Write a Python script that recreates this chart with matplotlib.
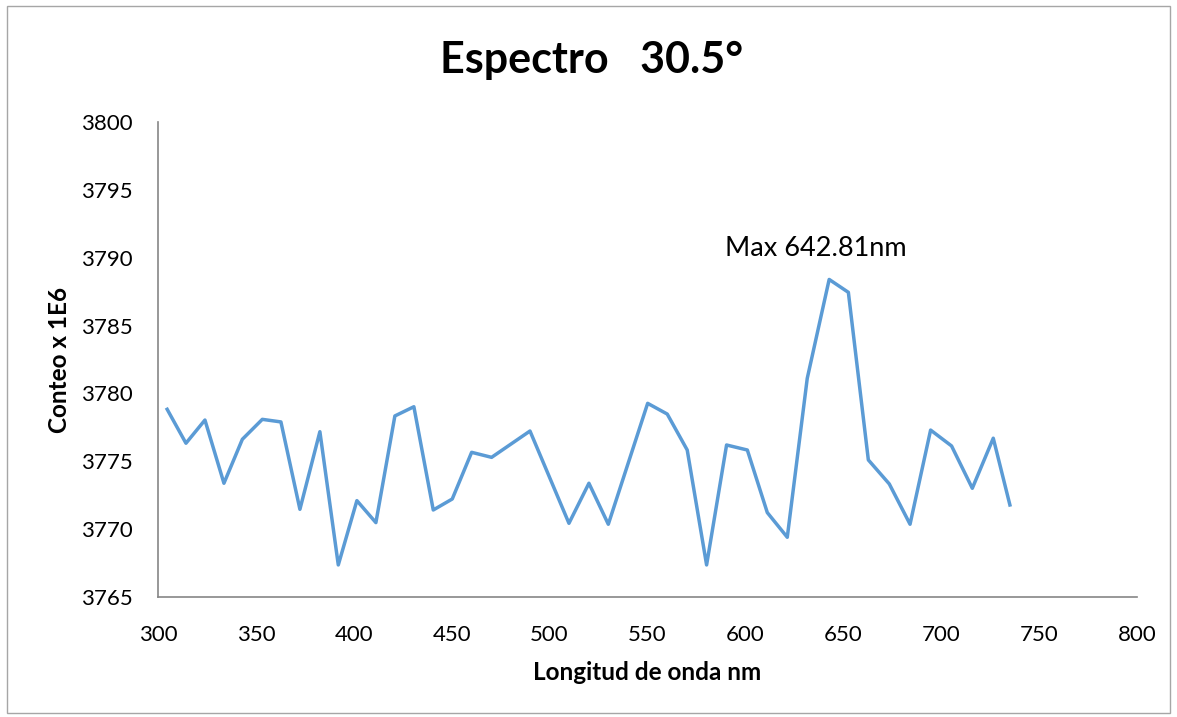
import matplotlib
matplotlib.use("Agg")
import matplotlib.pyplot as plt
from matplotlib.patches import Rectangle

# Spectrum at 30.5 degrees: wavelength (nm) vs counts (x 1E6)
wavelength_nm = [304.7, 314.3, 324.0, 333.7, 343.1, 353.3, 362.8, 372.5, 382.7, 392.1,
                 401.6, 411.3, 421.0, 430.7, 440.6, 450.3, 460.2, 470.4, 490.0, 509.9,
                 520.1, 530.0, 550.1, 560.1, 570.3, 580.2, 590.4, 601.0, 611.2, 621.4,
                 631.6, 642.8, 652.6, 662.8, 673.5, 684.1, 694.6, 705.3, 715.9, 726.6,
                 735.1]
counts = [3778.83, 3776.33, 3778.04, 3773.38, 3776.62, 3778.09, 3777.90, 3771.46, 3777.18, 3767.36,
          3772.10, 3770.48, 3778.34, 3779.02, 3771.41, 3772.22, 3775.66, 3775.29, 3777.23, 3770.43,
          3773.38, 3770.36, 3779.27, 3778.48, 3775.83, 3767.36, 3776.20, 3775.83, 3771.22, 3769.40,
          3781.11, 3788.40, 3787.45, 3775.10, 3773.33, 3770.36, 3777.30, 3776.13, 3773.01, 3776.70,
          3771.78]

title = "Espectro   30.5°"
xlabel = "Longitud de onda nm"
ylabel = "Conteo x 1E6"
peak_label = "Max 642.81nm"
x_ticks = [300, 350, 400, 450, 500, 550, 600, 650, 700, 750, 800]
y_ticks = [3765, 3770, 3775, 3780, 3785, 3790, 3795, 3800]

plt.rcParams['font.family'] = ['Lato', 'DejaVu Sans']

fig = plt.figure(figsize=(11.77, 7.17), dpi=100)
fig.patches.append(Rectangle((0.006, 0.006), 0.988, 0.985, transform=fig.transFigure,
                             fill=False, edgecolor='#a6a6a6', linewidth=1.0))

ax = fig.add_axes([0.1342, 0.1674, 0.8318, 0.6624])
ax.plot(wavelength_nm, counts, color='#5B9BD5', linewidth=2.5)

ax.set_xlim(300, 800)
ax.set_ylim(3765, 3800)
ax.set_xticks(x_ticks)
ax.set_yticks(y_ticks)
ax.tick_params(axis='both', length=0, labelsize=16, colors='black')
ax.tick_params(axis='x', pad=20)
ax.tick_params(axis='y', pad=18)
for s in ['top', 'right']:
    ax.spines[s].set_visible(False)
for s in ['left', 'bottom']:
    ax.spines[s].set_color('#868686')
    ax.spines[s].set_linewidth(1.2)

ax.set_xlabel(xlabel, fontsize=17.5, fontweight='bold', labelpad=12)
ax.set_ylabel(ylabel, fontsize=17.5, fontweight='bold', labelpad=7)
fig.suptitle(title, fontsize=31, fontweight='bold', x=0.503, y=0.944)

# peak annotation
peak_idx = counts.index(max(counts))
ax.annotate(peak_label, xy=(wavelength_nm[peak_idx], counts[peak_idx]),
            xytext=(636, 3790.7), ha='center', va='center', fontsize=19.5)

fig.savefig("out.png", dpi=100)
